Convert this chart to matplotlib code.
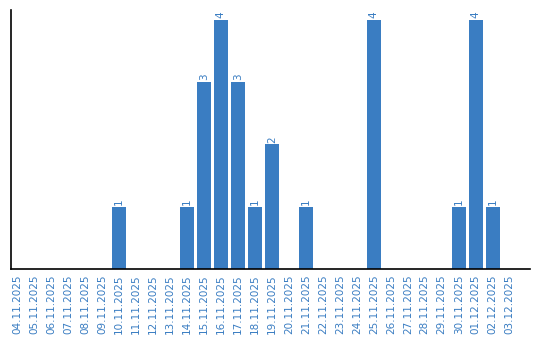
import matplotlib
matplotlib.use("Agg")
import matplotlib.pyplot as plt
import pandas as pd

dates = [d.strftime("%d.%m.%Y") for d in pd.date_range("2025-11-04", "2025-12-03")]
counts_map = {"10.11.2025": 1, "14.11.2025": 1, "15.11.2025": 3, "16.11.2025": 4,
              "17.11.2025": 3, "18.11.2025": 1, "19.11.2025": 2, "21.11.2025": 1,
              "25.11.2025": 4, "30.11.2025": 1, "01.12.2025": 4, "02.12.2025": 1}
counts = [counts_map.get(d, 0) for d in dates]

color = "#3a7dc2"
fig = plt.figure(figsize=(5.4, 3.4), dpi=100)
ax = fig.add_axes([0.0204, 0.209, 0.9606, 0.762])
x = list(range(len(dates)))
bars = ax.bar(x, counts, width=0.82, color=color)
for xi, c in zip(x, counts):
    if c > 0:
        ax.text(xi, c + 0.03, str(c), rotation=90, ha="center", va="bottom",
                fontsize=7.5, color=color)
ax.set_xlim(-0.353, 30.18)
ax.set_ylim(0, 4.16)
ax.set_xticks(x)
ax.set_xticklabels(dates, rotation=90, fontsize=7.5, color=color)
ax.tick_params(axis="x", length=0, pad=4)
ax.set_yticks([])
ax.spines["top"].set_visible(False)
ax.spines["right"].set_visible(False)
ax.spines["left"].set_linewidth(1.2)
ax.spines["bottom"].set_linewidth(1.2)
fig.savefig("out.png", dpi=100)
